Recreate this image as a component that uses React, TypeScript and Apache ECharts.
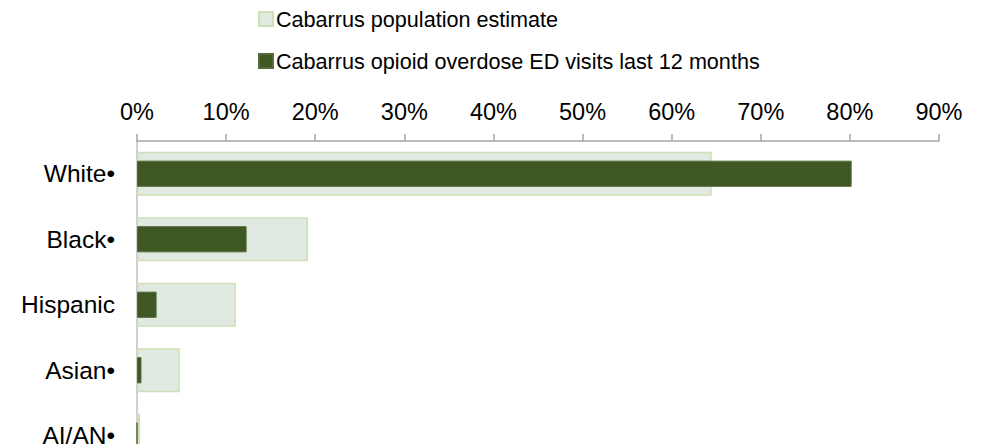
import React, { useEffect, useRef } from "react";
import * as echarts from "echarts";

const categories = ["White•", "Black•", "Hispanic", "Asian•", "AI/AN•"];
const populationEstimate = [64.5, 19.2, 11.1, 4.8, 0.35];
const opioidVisits = [80.2, 12.3, 2.2, 0.5, 0];
const seriesNames = [
  "Cabarrus population estimate",
  "Cabarrus opioid overdose ED visits last 12 months",
];

export default function App() {
  const ref = useRef<HTMLDivElement>(null);
  useEffect(() => {
    if (!ref.current) return;
    document.body.style.overflow = "hidden";
    const chart = echarts.init(ref.current, null, { renderer: "svg" });
    const font = "Liberation Sans, Arial, sans-serif";
    chart.setOption({
      animation: false,
      textStyle: { fontFamily: font },
      legend: {
        orient: "vertical",
        left: 250,
        top: 0,
        padding: 0,
        itemWidth: 14,
        itemHeight: 14,
        itemGap: 20,
        textStyle: { fontSize: 21.6, color: "#000", fontFamily: font, padding: [0, 0, 0, -2] },
        data: [
          { name: seriesNames[0], icon: "rect" },
          { name: seriesNames[1], icon: "rect" },
        ],
      },
      grid: { left: 129, top: 133, width: 802, height: 327.5, containLabel: false },
      xAxis: {
        type: "value",
        position: "top",
        min: 0,
        max: 90,
        interval: 10,
        axisLine: { show: true, lineStyle: { color: "#a6a6a6", width: 1.5 } },
        axisTick: { show: true, length: 7, lineStyle: { color: "#a6a6a6", width: 1.5 } },
        splitLine: { show: false },
        axisLabel: {
          formatter: "{value}%",
          fontSize: 23.5,
          color: "#000",
          margin: 17,
          fontFamily: font,
        },
      },
      yAxis: [
        {
          type: "category",
          inverse: true,
          data: categories,
          axisLine: { show: true, lineStyle: { color: "#d0d0d0", width: 2 } },
          axisTick: { show: false },
          axisLabel: { fontSize: 24.5, color: "#000", margin: 22, fontFamily: font },
        },
        {
          type: "category",
          inverse: true,
          position: "left",
          data: categories,
          show: false,
        },
      ],
      series: [
        {
          name: seriesNames[0],
          type: "bar",
          yAxisIndex: 0,
          data: populationEstimate,
          barWidth: "67%",
          itemStyle: { color: "#e0eae0", borderColor: "#cfe0b4", borderWidth: 1.5 },
        },
        {
          name: seriesNames[1],
          type: "bar",
          yAxisIndex: 1,
          data: opioidVisits,
          barWidth: "40%",
          itemStyle: { color: "#3e5723", borderColor: "#556b3a", borderWidth: 1 },
        },
      ],
    });
    return () => chart.dispose();
  }, []);
  return <div ref={ref} style={{ width: 967, height: 470 }} />;
}
